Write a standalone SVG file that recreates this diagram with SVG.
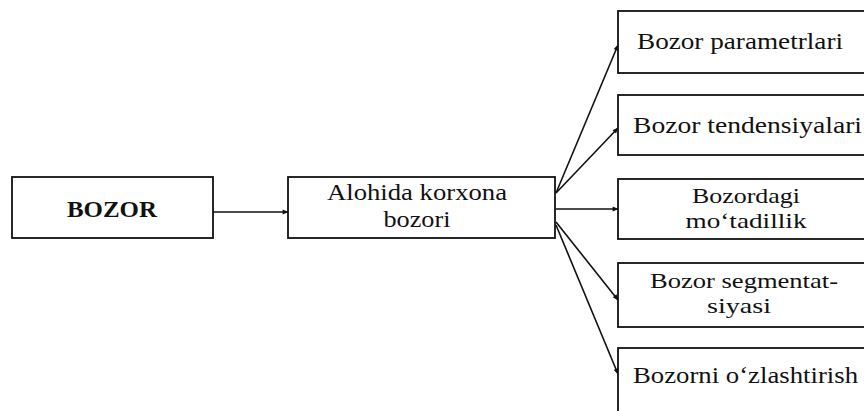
<svg xmlns="http://www.w3.org/2000/svg" width="864" height="411" viewBox="0 0 864 411">
  <style>
    .box { fill: #fff; stroke: #111; stroke-width: 1.8; }
    .t { font-family: "Liberation Serif", "Times New Roman", serif; font-size: 23px; fill: #111; }
    .s { font-size: 22px; }
    .b { font-weight: bold; }
    .c { text-anchor: middle; }
    .edge { stroke: #111; stroke-width: 1.6; fill: none; marker-end: url(#ah); }
  </style>
  <defs>
    <marker id="ah" viewBox="0 0 10 10" refX="9" refY="5" markerWidth="8" markerHeight="6" markerUnits="userSpaceOnUse" orient="auto">
      <path d="M0,1 L10,5 L0,9 Z" fill="#111"/>
    </marker>
  </defs>
  <rect width="864" height="411" fill="#fff"/>

  <g id="connectors">
    <line class="edge" x1="213" y1="212" x2="288" y2="212"/>
    <line class="edge" x1="556" y1="193" x2="618" y2="45"/>
    <line class="edge" x1="556" y1="193" x2="618" y2="128"/>
    <line class="edge" x1="556" y1="209" x2="618" y2="209"/>
    <line class="edge" x1="556" y1="222" x2="618" y2="300"/>
    <line class="edge" x1="556" y1="225" x2="618" y2="374"/>
  </g>

  <g id="bozor">
    <rect class="box" x="12" y="177" width="201" height="61"/>
    <text class="t b c" x="112" y="217" textLength="90" lengthAdjust="spacingAndGlyphs">BOZOR</text>
  </g>

  <g id="alohida">
    <rect class="box" x="288" y="177" width="267" height="61"/>
    <text class="t c" x="417" y="200" textLength="180" lengthAdjust="spacingAndGlyphs">Alohida korxona</text>
    <text class="t c" x="417" y="227" textLength="67" lengthAdjust="spacingAndGlyphs">bozori</text>
  </g>

  <g id="parametrlari">
    <rect class="box" x="618" y="11" width="260" height="62"/>
    <text class="t" x="637" y="49" textLength="206" lengthAdjust="spacingAndGlyphs">Bozor parametrlari</text>
  </g>

  <g id="tendensiyalari">
    <rect class="box" x="618" y="95" width="260" height="60"/>
    <text class="t" x="633" y="133" textLength="229" lengthAdjust="spacingAndGlyphs">Bozor tendensiyalari</text>
  </g>

  <g id="motadillik">
    <rect class="box" x="618" y="179" width="260" height="60"/>
    <text class="t s c" x="746" y="203" textLength="108" lengthAdjust="spacingAndGlyphs">Bozordagi</text>
    <text class="t s c" x="746" y="228" textLength="121" lengthAdjust="spacingAndGlyphs">mo‘tadillik</text>
  </g>

  <g id="segmentatsiya">
    <rect class="box" x="618" y="263" width="260" height="64"/>
    <text class="t s c" x="744" y="288" textLength="188" lengthAdjust="spacingAndGlyphs">Bozor segmentat-</text>
    <text class="t s c" x="739" y="313" textLength="64" lengthAdjust="spacingAndGlyphs">siyasi</text>
  </g>

  <g id="ozlashtirish">
    <rect class="box" x="618" y="348" width="260" height="80"/>
    <text class="t" x="633" y="383" textLength="225" lengthAdjust="spacingAndGlyphs">Bozorni o‘zlashtirish</text>
  </g>
</svg>
